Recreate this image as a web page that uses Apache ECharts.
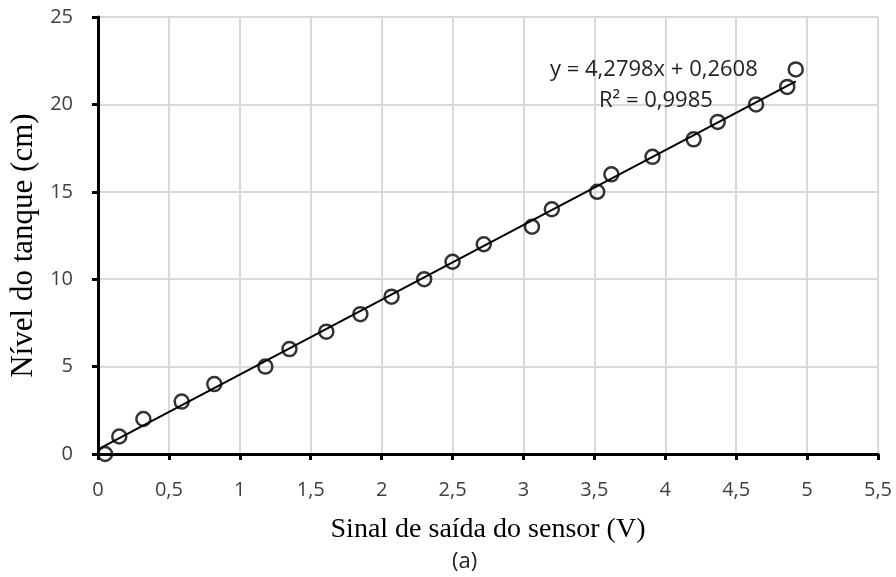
<!DOCTYPE html>
<html lang="pt">
<head>
    <meta charset="UTF-8">
    <title>Nível do tanque x Sinal do sensor</title>
    <style>
        * { margin: 0; padding: 0; }
        body { background-color: #fff; }
        #chart { width: 896px; height: 577px; }
    </style>
</head>
<body>
<div id="chart"></div>
<script src="https://cdn.jsdelivr.net/npm/echarts@6/dist/echarts.min.js"></script>
<script>
    // leituras do sensor (V) e nivel (cm)
    var sinal = [0.05, 0.15, 0.32, 0.59, 0.82, 1.18, 1.35, 1.61, 1.85, 2.07, 2.30, 2.50,
                 2.72, 3.06, 3.20, 3.52, 3.62, 3.91, 4.20, 4.37, 4.64, 4.86, 4.92];
    var nivel = [0, 1, 2, 3, 4, 5, 6, 7, 8, 9, 10, 11, 12, 13, 14, 15, 16, 17, 18, 19, 20, 21, 22];
    var coefA = 4.2798;
    var coefB = 0.2608;
    var trendX = [0, 4.92];

    var pontos = sinal.map(function (v, i) { return [v, nivel[i]]; });
    var tendencia = trendX.map(function (x) { return [x, coefA * x + coefB]; });

    var virgula = function (v) { return String(v).replace('.', ','); };

    var chart = echarts.init(document.getElementById('chart'));
    chart.setOption({
        backgroundColor: '#fff',
        animation: false,
        grid: { left: 98, right: 18, top: 17, bottom: 123 },
        xAxis: {
            type: 'value',
            min: 0, max: 5.5, interval: 0.5,
            name: 'Sinal de saída do sensor (V)',
            nameLocation: 'middle',
            nameGap: 62,
            nameTextStyle: { fontFamily: 'Liberation Serif', fontSize: 28, color: '#000' },
            axisLine: { lineStyle: { color: '#000', width: 3 } },
            axisTick: { show: true, length: 6, lineStyle: { color: '#000', width: 3 } },
            axisLabel: { formatter: virgula, margin: 26, fontFamily: 'Open Sans', fontSize: 20, color: '#404040' },
            splitLine: { lineStyle: { color: '#d9d9d9', width: 2 } }
        },
        yAxis: {
            type: 'value',
            min: 0, max: 25, interval: 5,
            name: 'Nível do tanque (cm)',
            nameLocation: 'middle',
            nameGap: 55,
            nameTextStyle: { fontFamily: 'Liberation Serif', fontSize: 31, color: '#000', padding: [0, 20, 0, 0] },
            axisLine: { show: true, lineStyle: { color: '#000', width: 3 } },
            axisTick: { show: true, length: 6, lineStyle: { color: '#000', width: 3 } },
            axisLabel: { margin: 25, fontFamily: 'Open Sans', fontSize: 20, color: '#404040' },
            splitLine: { lineStyle: { color: '#d9d9d9', width: 2 } }
        },
        graphic: {
            elements: [
                { type: 'text', left: 550, top: 59, z: 100, style: { text: 'y = 4,2798x + 0,2608', fontFamily: 'Open Sans', fontSize: 22, fill: '#222' } },
                { type: 'text', left: 599, top: 90, z: 100, style: { text: 'R² = 0,9985', fontFamily: 'Open Sans', fontSize: 22, fill: '#222' } },
                { type: 'text', left: 452, top: 551, z: 100, style: { text: '(a)', fontFamily: 'Open Sans', fontSize: 22, fill: '#222' } }
            ]
        },
        series: [
            {
                type: 'line',
                data: tendencia,
                showSymbol: false,
                lineStyle: { color: '#000', width: 2 },
                z: 2
            },
            {
                type: 'scatter',
                data: pontos,
                symbol: 'circle',
                symbolSize: 14,
                itemStyle: { color: 'rgba(255,255,255,0)', borderColor: '#000', borderWidth: 2.5 },
                z: 3
            }
        ]
    });
</script>
</body>
</html>
